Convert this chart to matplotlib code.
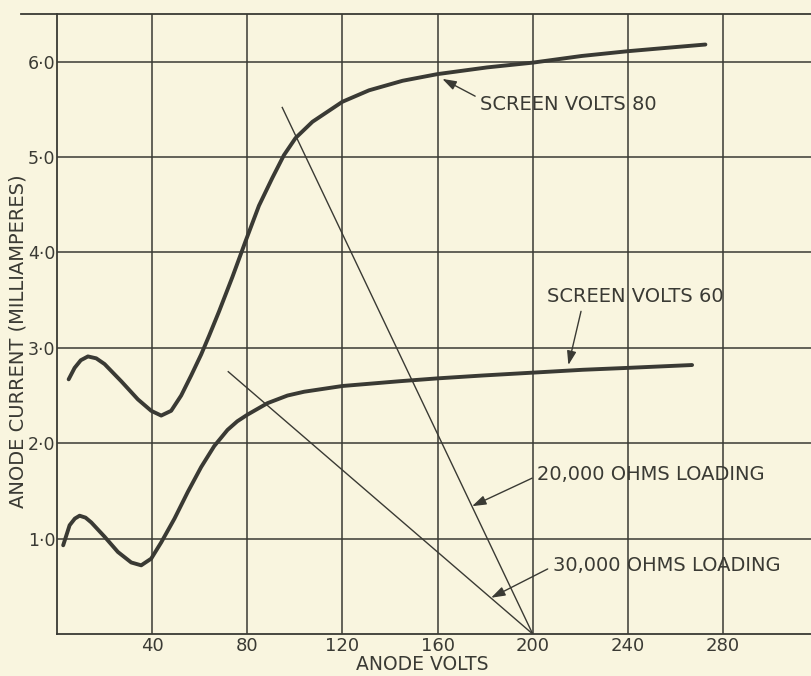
import matplotlib
matplotlib.use("Agg")
import matplotlib.pyplot as plt

# screen volts 80 curve (anode volts, mA)
sv80_volts = [4.9, 7.4, 10, 13, 16.5, 20, 27, 34, 39.6, 43.8, 48, 52.2, 56.4, 60.6, 64,
              68.1, 73.7, 79.3, 84.9, 90.5, 95.4, 100.3, 107.4, 120, 131.2, 145.3, 160,
              180.8, 200, 220.6, 240, 258.5, 272.6]
sv80_ma = [2.67, 2.79, 2.87, 2.91, 2.89, 2.83, 2.65, 2.46, 2.34, 2.29, 2.34, 2.50, 2.71,
           2.93, 3.13, 3.38, 3.74, 4.12, 4.49, 4.78, 5.02, 5.20, 5.37, 5.58, 5.70, 5.80,
           5.87, 5.94, 5.99, 6.06, 6.11, 6.15, 6.18]

# screen volts 60 curve
sv60_volts = [2.6, 5.3, 7.5, 9.5, 12, 14.4, 20, 25.6, 31.2, 35.4, 39.6, 43.8, 49.4, 55,
              60.6, 66.1, 71.7, 75.8, 80.1, 88.5, 96.9, 103.9, 120, 144, 160, 178.9, 200,
              221, 240, 267]
sv60_ma = [0.93, 1.14, 1.21, 1.24, 1.22, 1.17, 1.02, 0.86, 0.75, 0.72, 0.79, 0.96, 1.21,
           1.49, 1.75, 1.97, 2.14, 2.23, 2.30, 2.42, 2.50, 2.54, 2.60, 2.65, 2.68, 2.71,
           2.74, 2.77, 2.79, 2.82]

# load lines
load20k_volts = [94.7, 200]
load20k_ma = [5.52, 0]
load30k_volts = [72, 200]
load30k_ma = [2.75, 0]

x_ticks = [40, 80, 120, 160, 200, 240, 280]
y_ticks = [1, 2, 3, 4, 5, 6]
y_labels = ["1\u00b70", "2\u00b70", "3\u00b70", "4\u00b70", "5\u00b70", "6\u00b70"]

paper = "#f9f5df"
ink = "#3a3a34"

fig = plt.figure(figsize=(8.11, 6.76), dpi=100, facecolor=paper)
ax = fig.add_axes([57 / 811, 1 - 634 / 676, (811 - 57) / 811, (634 - 14) / 676])
ax.set_facecolor(paper)
ax.set_xlim(0, 317)
ax.set_ylim(0, 6.5)

# grid
for v in x_ticks + [320]:
    ax.axvline(v, color=ink, lw=1.1, zorder=1)
for i in y_ticks:
    ax.axhline(i, color=ink, lw=1.1, zorder=1)

for side in ["left", "bottom", "top"]:
    ax.spines[side].set_color(ink)
    ax.spines[side].set_linewidth(1.3)
ax.spines["right"].set_visible(False)
ax.spines["top"].set_bounds(-15, 317)

ax.plot(sv80_volts, sv80_ma, color=ink, lw=2.8, solid_capstyle="round",
        solid_joinstyle="round", zorder=3)
ax.plot(sv60_volts, sv60_ma, color=ink, lw=2.8, solid_capstyle="round",
        solid_joinstyle="round", zorder=3)
ax.plot(load20k_volts, load20k_ma, color=ink, lw=1.0, zorder=2)
ax.plot(load30k_volts, load30k_ma, color=ink, lw=1.0, zorder=2)

ax.set_xticks(x_ticks)
ax.set_xticklabels([str(v) for v in x_ticks])
ax.set_yticks(y_ticks)
ax.set_yticklabels(y_labels)
ax.tick_params(length=0, colors=ink)
ax.tick_params(axis="x", pad=2, labelsize=13)
ax.tick_params(axis="y", pad=1, labelsize=12.5)

ax.set_xlabel("ANODE VOLTS", fontsize=13.5, color=ink, va="bottom")
ax.xaxis.set_label_coords(0.485, -0.0645)
ax.set_ylabel("ANODE CURRENT (MILLIAMPERES)", fontsize=14, color=ink, va="center")
ax.yaxis.set_label_coords(-0.052, 0.473)

arrow = dict(arrowstyle="-|>,head_length=0.6,head_width=0.2", color=ink, lw=1.0,
             shrinkA=2, shrinkB=0)
label_size = 14

ax.annotate("SCREEN VOLTS 80", xy=(162, 5.82), xytext=(178, 5.55), fontsize=label_size,
            color=ink, ha="left", va="center",
            arrowprops=dict(arrow, relpos=(0, 0.8)))
ax.annotate("SCREEN VOLTS 60", xy=(215, 2.82), xytext=(206, 3.54), fontsize=label_size,
            color=ink, ha="left", va="center",
            arrowprops=dict(arrow, relpos=(0.2, 0)))
ax.annotate("20,000 OHMS LOADING", xy=(174.5, 1.34), xytext=(202, 1.67), fontsize=label_size,
            color=ink, ha="left", va="center",
            arrowprops=dict(arrow, relpos=(0, 0.45)))
ax.annotate("30,000 OHMS LOADING", xy=(182.5, 0.38), xytext=(208.5, 0.72), fontsize=label_size,
            color=ink, ha="left", va="center",
            arrowprops=dict(arrow, relpos=(0, 0.45)))

fig.savefig("out.png", dpi=100, facecolor=paper)
